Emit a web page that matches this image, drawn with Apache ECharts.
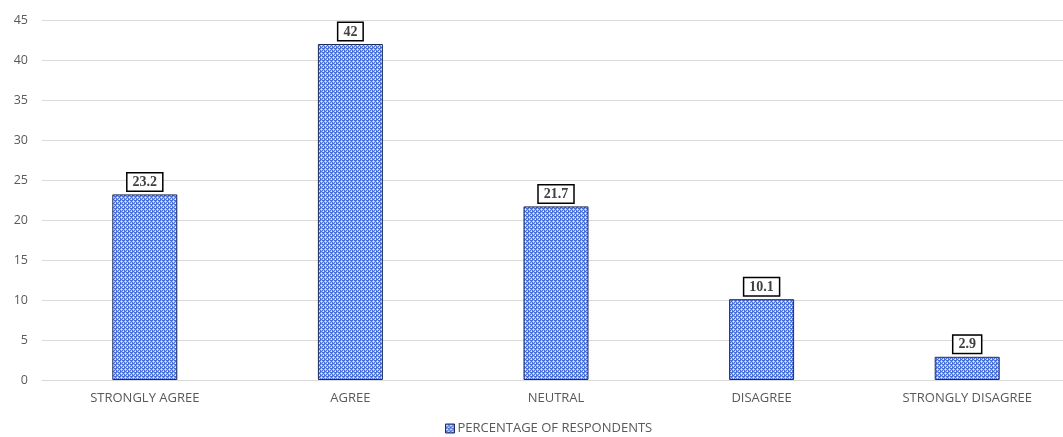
<!DOCTYPE html>
<html>
<head>
<meta charset="utf-8">
<script src="https://cdn.jsdelivr.net/npm/echarts@6/dist/echarts.min.js"></script>
<style>
  html, body { margin: 0; padding: 0; background: #fff; overflow: hidden; }
  #chart { width: 1070px; height: 437px; }
</style>
</head>
<body>
<div id="chart"></div>
<script>
const categories = ['STRONGLY AGREE', 'AGREE', 'NEUTRAL', 'DISAGREE', 'STRONGLY DISAGREE'];
const percentages = [23.2, 42, 21.7, 10.1, 2.9];
const seriesName = 'PERCENTAGE OF RESPONDENTS';
const yTicks = { min: 0, max: 45, interval: 5 };

// small repeating lattice used as the bar fill
function makeLattice() {
  const c = document.createElement('canvas');
  c.width = 4; c.height = 4;
  const g = c.getContext('2d');
  g.fillStyle = '#4a6fd6';
  g.fillRect(0, 0, 4, 4);
  g.fillStyle = '#a9bbef';
  [[1,0],[0,1],[2,1],[1,2],[3,2],[2,3]].forEach(p => g.fillRect(p[0], p[1], 1, 1));
  g.fillStyle = '#e9eefb';
  [[1,1],[3,3]].forEach(p => g.fillRect(p[0], p[1], 1, 1));
  return c;
}
const lattice = { image: makeLattice(), repeat: 'repeat' };

const chart = echarts.init(document.getElementById('chart'), null, { renderer: 'canvas' });
chart.setOption({
  animation: false,
  textStyle: { fontFamily: 'Open Sans, sans-serif' },
  grid: { left: 42, top: 20, right: 0, height: 360, containLabel: false },
  xAxis: {
    type: 'category',
    data: categories,
    axisLine: { lineStyle: { color: '#d9d9d9', width: 1 } },
    axisTick: { show: false },
    axisLabel: { color: '#595959', fontSize: 13, margin: 12 }
  },
  yAxis: {
    type: 'value',
    min: yTicks.min, max: yTicks.max, interval: yTicks.interval,
    axisLine: { show: false },
    axisTick: { show: false },
    splitLine: { lineStyle: { color: '#d9d9d9', width: 1 } },
    axisLabel: { color: '#595959', fontSize: 12.5, margin: 14 }
  },
  legend: {
    top: 417,
    left: 440,
    itemWidth: 9, itemHeight: 9, itemGap: 4,
    textStyle: { color: '#595959', fontSize: 13, padding: [0, 0, 0, -2] },
    data: [{ name: seriesName, icon: 'rect', itemStyle: { color: lattice, borderColor: '#1e2c5a', borderWidth: 1 } }]
  },
  series: [{
    name: seriesName,
    type: 'bar',
    barWidth: 65,
    data: percentages,
    itemStyle: { color: lattice, borderColor: '#1e2c5a', borderWidth: 1 },
    label: {
      show: true,
      position: 'top',
      distance: 4,
      color: '#404040',
      fontFamily: 'Liberation Serif, Times New Roman, serif',
      fontWeight: 'bold',
      fontSize: 14,
      backgroundColor: '#fff',
      borderColor: '#000',
      borderWidth: 1.5,
      padding: [2, 5, 1, 5]
    }
  }]
});
</script>
</body>
</html>
